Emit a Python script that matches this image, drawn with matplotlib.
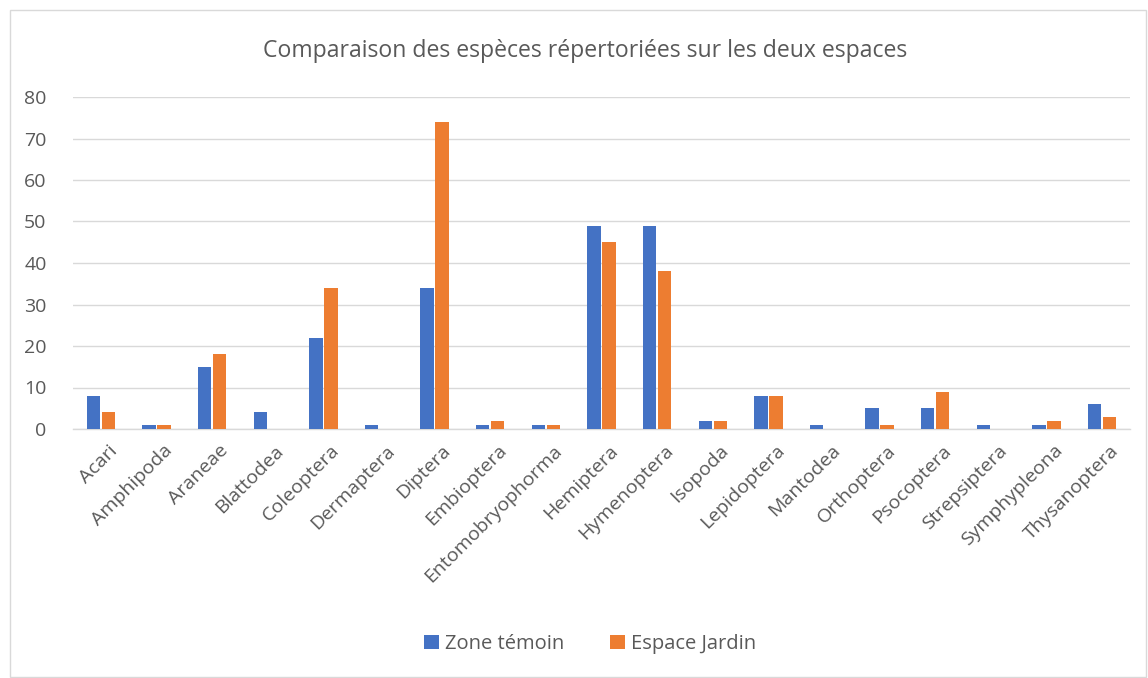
import numpy as np
import matplotlib.pyplot as plt
import matplotlib.transforms as mtransforms
from matplotlib.patches import Rectangle

plt.rcParams['font.family'] = ['Open Sans', 'DejaVu Sans']

categories = ['Acari', 'Amphipoda', 'Araneae', 'Blattodea', 'Coleoptera', 'Dermaptera',
              'Diptera', 'Embioptera', 'Entomobryophorma', 'Hemiptera', 'Hymenoptera',
              'Isopoda', 'Lepidoptera', 'Mantodea', 'Orthoptera', 'Psocoptera',
              'Strepsiptera', 'Symphypleona', 'Thysanoptera']
zone_temoin = [8, 1, 15, 4, 22, 1, 34, 1, 1, 49, 49, 2, 8, 1, 5, 5, 1, 1, 6]
espace_jardin = [4, 1, 18, 0, 34, 0, 74, 2, 1, 45, 38, 2, 8, 0, 1, 9, 0, 2, 3]

blue = '#4472C4'
orange = '#ED7D31'
grey = '#595959'

fig = plt.figure(figsize=(11.48, 6.78), dpi=100)
fig.patches.append(Rectangle((10 / 1148, 1 / 678), 1136 / 1148, 667 / 678,
                             transform=fig.transFigure, fill=False,
                             edgecolor='#D9D9D9', linewidth=1))
ax = fig.add_axes([73 / 1148, 1 - 429 / 678, 1057 / 1148, 332 / 678])

x = np.arange(len(categories))
w = 0.24
ax.bar(x - 0.135, zone_temoin, w, color=blue, label='Zone témoin', zorder=3)
ax.bar(x + 0.135, espace_jardin, w, color=orange, label='Espace Jardin', zorder=3)

ax.set_xlim(-0.5, len(categories) - 0.5)
ax.set_ylim(0, 80)
ax.set_yticks(range(0, 81, 10))
ax.yaxis.grid(True, color='#D9D9D9', linewidth=1, zorder=0)
for s in ['top', 'right', 'left']:
    ax.spines[s].set_visible(False)
ax.spines['bottom'].set_color('#D9D9D9')
ax.spines['bottom'].set_linewidth(1)
ax.tick_params(axis='both', length=0, colors=grey, labelsize=14)
ax.tick_params(axis='y', pad=19)
ax.tick_params(axis='x', pad=9)
ax.set_xticks(x)
ax.set_xticklabels(categories, rotation=45, ha='right', rotation_mode='anchor')
shift = mtransforms.ScaledTranslation(7 / 100, 0, fig.dpi_scale_trans)
for lab in ax.get_xticklabels():
    lab.set_transform(lab.get_transform() + shift)

fig.text(585 / 1148, 1 - 51 / 678, 'Comparaison des espèces répertoriées sur les deux espaces',
         ha='center', va='center', fontsize=16.6, color=grey)

fig.legend(loc='center', bbox_to_anchor=(590 / 1148, 1 - 644 / 678), ncol=2, frameon=False,
           fontsize=14.5, labelcolor=grey, handlelength=0.75, handleheight=0.75,
           handletextpad=0.3, columnspacing=2.3)

fig.savefig('out.png', dpi=100)
